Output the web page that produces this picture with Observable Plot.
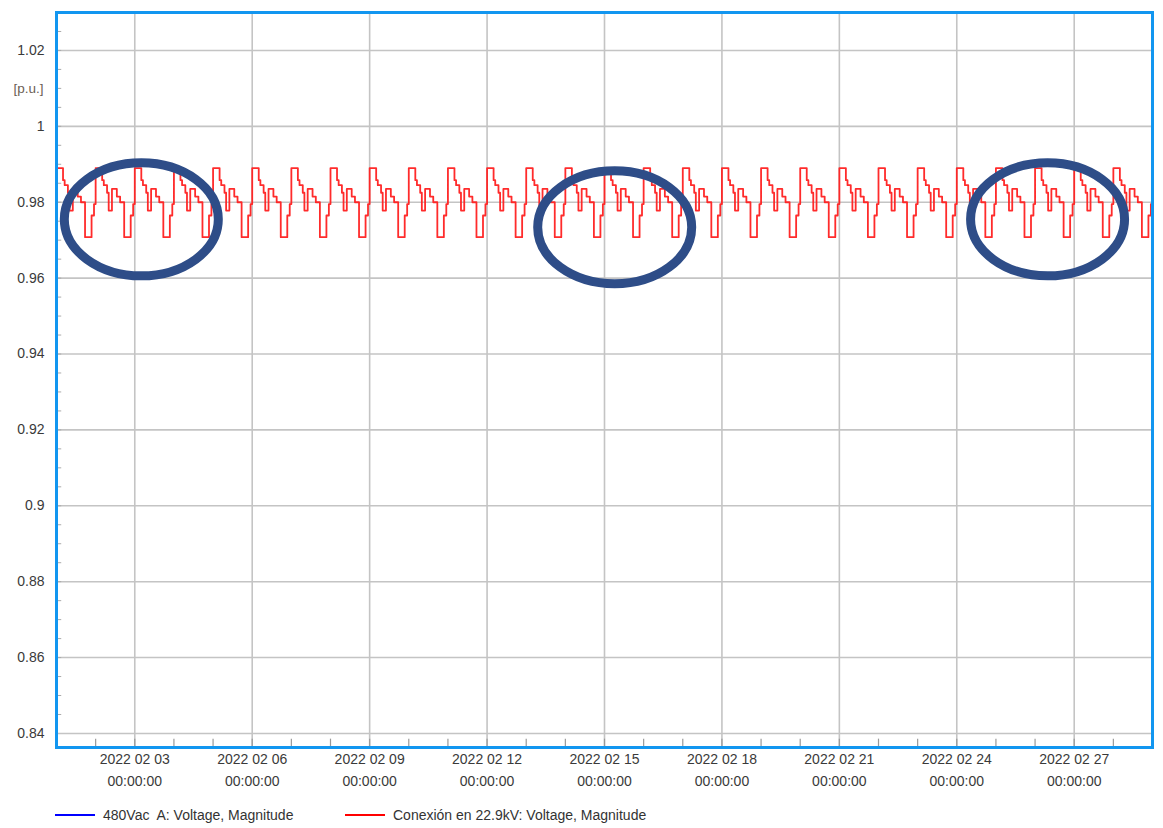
<!DOCTYPE html>
<html>
<head>
<meta charset="utf-8">
<script src="https://cdn.jsdelivr.net/npm/d3@7"></script>
<script src="https://cdn.jsdelivr.net/npm/@observablehq/plot@0.6"></script>
<style>
  html, body { margin: 0; padding: 0; background: #fff; }
  #wrap { position: relative; width: 1163px; height: 828px; font-family: "Liberation Sans", Arial, sans-serif; }
  #legend { position: absolute; left: 0; top: 806px; width: 1163px; height: 20px; font-size: 14px; color: #333; }
  .item { position: absolute; top: 0; display: flex; align-items: center; height: 18px; }
  .swatch { width: 40px; height: 2px; margin-right: 8px; }
</style>
</head>
<body>
<div id="wrap">
  <div id="chart"></div>
  <div id="legend">
    <div class="item" style="left:55px"><div class="swatch" style="background:#0000ff"></div><span>480Vac&nbsp; A: Voltage, Magnitude</span></div>
    <div class="item" style="left:345px"><div class="swatch" style="background:#ff0000"></div><span>Conexión en 22.9kV: Voltage, Magnitude</span></div>
  </div>
</div>
<script>
// ---- Data ----
const days = [
  "2022-02-01","2022-02-02","2022-02-03","2022-02-04","2022-02-05","2022-02-06","2022-02-07",
  "2022-02-08","2022-02-09","2022-02-10","2022-02-11","2022-02-12","2022-02-13","2022-02-14",
  "2022-02-15","2022-02-16","2022-02-17","2022-02-18","2022-02-19","2022-02-20","2022-02-21",
  "2022-02-22","2022-02-23","2022-02-24","2022-02-25","2022-02-26","2022-02-27","2022-02-28"
];
// hour of day where each step level starts, and the level (p.u.) for the 22.9kV series
const stepHours  = [0,     4,      5,      7,      8,      10,     13,     15,    17.5,   21.5,   23];
const stepValues = [0.989, 0.9858, 0.9845, 0.9825, 0.9778, 0.9835, 0.9815, 0.980, 0.9708, 0.9765, 0.9795];
const endDate = "2022-03-01";

const yTickValues = [0.84, 0.86, 0.88, 0.90, 0.92, 0.94, 0.96, 0.98, 1.00, 1.02];
const yTickLabels = ["0.84","0.86","0.88","0.9","0.92","0.94","0.96","0.98","1","1.02"];
const xTickDates  = ["2022-02-03","2022-02-06","2022-02-09","2022-02-12","2022-02-15","2022-02-18","2022-02-21","2022-02-24","2022-02-27"];
const xTickLabels = ["2022 02 03","2022 02 06","2022 02 09","2022 02 12","2022 02 15","2022 02 18","2022 02 21","2022 02 24","2022 02 27"];
const xTickTime   = "00:00:00";

// highlighted regions (centres of the annotation ellipses)
const highlightDates  = ["2022-02-03T04:00Z", "2022-02-15T06:15Z", "2022-02-26T07:40Z"];
const highlightValues = [0.9755, 0.9734, 0.9755];

// ---- Build tables ----
const parse = s => new Date(s.length === 10 ? s + "T00:00:00Z" : s);
const series = [];
for (const d of days) {
  const base = parse(d).getTime();
  stepHours.forEach((h, i) => series.push({t: new Date(base + h * 3600e3), v: stepValues[i]}));
}
series.push({t: parse(endDate), v: stepValues[stepValues.length - 1]});

const x0 = parse("2022-02-01"), x1 = parse(endDate);
const yMin = 0.8363, yMax = 1.030;
const minorDays = d3.utcDay.range(x0, x1).slice(1);
const minorY = d3.range(0.845, 1.0301, 0.005);
const highlights = highlightDates.map((d, i) => ({t: new Date(d), v: highlightValues[i]}));

const ellipseSymbol = {
  draw(ctx) {
    const rx = 77, ry = 56.5, k = 0.5523;
    ctx.moveTo(rx, 0);
    ctx.bezierCurveTo(rx, ry * k, rx * k, ry, 0, ry);
    ctx.bezierCurveTo(-rx * k, ry, -rx, ry * k, -rx, 0);
    ctx.bezierCurveTo(-rx, -ry * k, -rx * k, -ry, 0, -ry);
    ctx.bezierCurveTo(rx * k, -ry, rx, -ry * k, rx, 0);
    ctx.closePath();
  }
};

const font = "Liberation Sans, Arial, sans-serif";
const chart = Plot.plot({
  width: 1163,
  height: 806,
  marginLeft: 56,
  marginRight: 11,
  marginTop: 12,
  marginBottom: 59,
  style: {fontFamily: font, fontSize: "14px", background: "#fff", overflow: "visible"},
  x: {type: "utc", domain: [x0, x1], axis: null},
  y: {domain: [yMin, yMax], axis: null},
  marks: [
    Plot.ruleY(yTickValues, {stroke: "#c4c4c4", strokeWidth: 1.6}),
    Plot.ruleX(xTickDates.map(parse), {stroke: "#c4c4c4", strokeWidth: 1.6}),
    Plot.ruleY(minorY, {x1: x0, x2: new Date(x0.getTime() + 3.2 * 3600e3), stroke: "#aaa", strokeWidth: 1}),
    Plot.ruleX(minorDays, {y1: yMin, y2: yMin + 0.0022, stroke: "#999", strokeWidth: 1.2}),
    Plot.line(series, {x: "t", y: "v", curve: "step-after", stroke: "#ff2020", strokeWidth: 1.8, strokeOpacity: 0.95}),
    Plot.frame({stroke: "#1296F0", strokeWidth: 3}),
    Plot.text(yTickValues, {y: d => d, frameAnchor: "left", dx: -12, textAnchor: "end",
      text: (d, i) => yTickLabels[i], fill: "#3a3a3a", fontSize: 14}),
    Plot.text([1.01], {y: d => d, frameAnchor: "left", dx: -13, textAnchor: "end",
      text: () => "[p.u.]", fill: "#6b5e55", fontSize: 13.5}),
    Plot.text(xTickDates.map(parse), {x: d => d, frameAnchor: "bottom", dy: 16,
      text: (d, i) => xTickLabels[i], fill: "#3a3a3a", fontSize: 14}),
    Plot.text(xTickDates.map(parse), {x: d => d, frameAnchor: "bottom", dy: 38,
      text: () => xTickTime, fill: "#3a3a3a", fontSize: 14}),
    Plot.dot(highlights, {x: "t", y: "v", symbol: ellipseSymbol, fill: "none", stroke: "#2E4D88", strokeWidth: 9})
  ]
});
document.getElementById("chart").appendChild(chart);
</script>
</body>
</html>
